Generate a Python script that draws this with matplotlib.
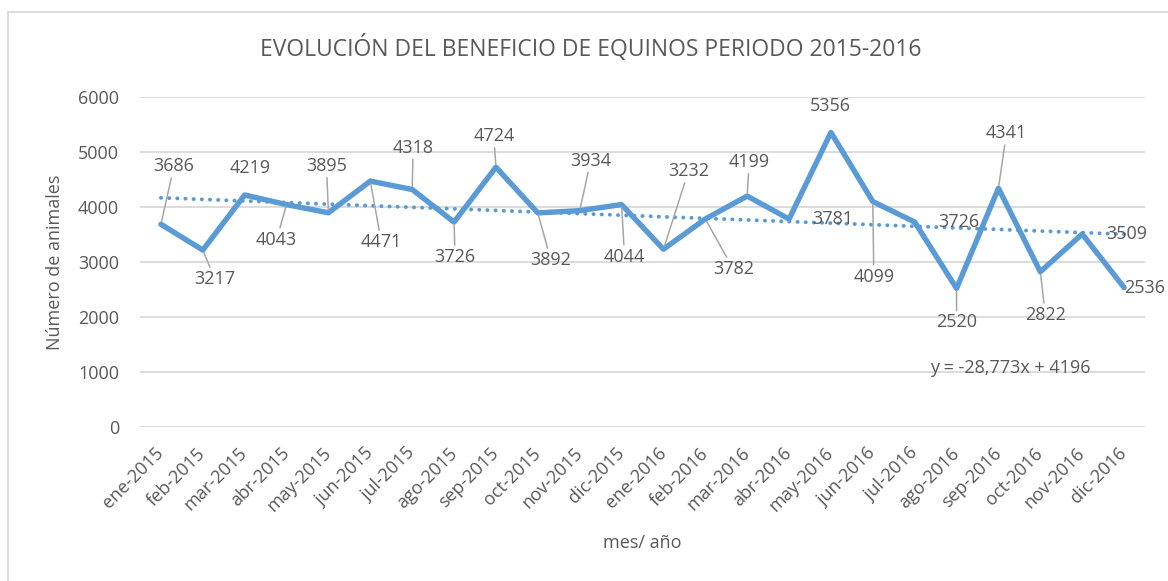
#evolucion del beneficio de equinos 2015-2016
import numpy as np
import matplotlib
matplotlib.use('Agg')
import matplotlib.pyplot as plt
from matplotlib.lines import Line2D

plt.rcParams['font.family'] = ['Open Sans', 'DejaVu Sans']

meses = ['ene-2015', 'feb-2015', 'mar-2015', 'abr-2015', 'may-2015', 'jun-2015',
         'jul-2015', 'ago-2015', 'sep-2015', 'oct-2015', 'nov-2015', 'dic-2015',
         'ene-2016', 'feb-2016', 'mar-2016', 'abr-2016', 'may-2016', 'jun-2016',
         'jul-2016', 'ago-2016', 'sep-2016', 'oct-2016', 'nov-2016', 'dic-2016']
animales = [3686, 3217, 4219, 4043, 3895, 4471, 4318, 3726, 4724, 3892, 3934, 4044,
            3232, 3782, 4199, 3781, 5356, 4099, 3726, 2520, 4341, 2822, 3509, 2536]
yticks = [0, 1000, 2000, 3000, 4000, 5000, 6000]
ecuacion = 'y = -28,773x + 4196'

# posicion de las etiquetas (pixeles respecto al punto) y si llevan linea guia
lab_off = [(13, 58), (12, -29), (5, 27), (-10, -35), (-2, 47), (11, -61), (1, 42),
           (1, -35), (-2, 31), (13, -47), (11, 50), (3, -52), (25, 78), (28, -50),
           (2, 34), (44, 0), (-1, 26), (1, -75), (44, 0), (0, -34), (8, 55),
           (5, -43), (45, 0), (21, 0)]
guia = [1, 1, 0, 1, 1, 1, 1, 1, 1, 1, 1, 1, 1, 1, 1, 0, 0, 1, 0, 1, 1, 1, 0, 0]

azul = '#5B9BD5'
gris = '#595959'
W, H = 1168, 581

fig = plt.figure(figsize=(W/100, H/100), dpi=100)
ax = fig.add_axes([140/W, 1-427/H, 1005/W, 330/H])

x = np.arange(len(animales))
ax.plot(x, animales, color=azul, lw=3.9, solid_joinstyle='round', solid_capstyle='round', zorder=3)

# linea de tendencia lineal
xx = np.arange(1, len(animales)+1)
m, b = np.polyfit(xx, animales, 1)
ax.plot(x, m*xx+b, color=azul, lw=2.8, linestyle=(0, (0.05, 2.05)), dash_capstyle='round', zorder=4)

for i, v in enumerate(animales):
    dx, dy = lab_off[i]
    props = None
    if guia[i]:
        props = dict(arrowstyle='-', color='#A6A6A6', lw=1.1, shrinkA=0, shrinkB=2)
    ax.annotate(str(v), xy=(i, v), xytext=(dx, dy), textcoords='offset pixels',
                ha='center', va='center', fontsize=13, color=gris,
                arrowprops=props, zorder=5)

ax.text((1010-140)/1005, (427-368)/330, ecuacion, transform=ax.transAxes,
        ha='center', va='center', fontsize=13, color=gris)

ax.set_xlim(-0.5, len(animales)-0.5)
ax.set_ylim(0, 6000)
ax.set_yticks(yticks)
ax.set_xticks(x)
ax.set_xticklabels(meses, rotation=45, ha='right', va='center', rotation_mode='anchor')
ax.tick_params(axis='x', length=0, pad=17, labelsize=13, labelcolor=gris)
ax.tick_params(axis='y', length=0, pad=15, labelsize=13, labelcolor=gris)
ax.grid(axis='y', color='#D9D9D9', lw=1.3)
ax.set_axisbelow(True)
for s in ax.spines.values():
    s.set_visible(False)

ax.set_ylabel('Número de animales', fontsize=13, color=gris, va='center')
ax.yaxis.set_label_coords((55-140)/1005, 0.5)
ax.set_xlabel('mes/ año', fontsize=13, color=gris, va='center')
ax.xaxis.set_label_coords(0.5, (427-543)/330)

fig.text(591/W, 1-48/H, 'EVOLUCIÓN DEL BENEFICIO DE EQUINOS PERIODO 2015-2016',
         ha='center', va='center', fontsize=16.5, color=gris)

# borde del grafico
fig.add_artist(Line2D([8/W, 8/W, 1], [0, 1-12/H, 1-12/H], transform=fig.transFigure,
                      color='#D9D9D9', lw=1.3))

plt.savefig('out.png', dpi=100)
